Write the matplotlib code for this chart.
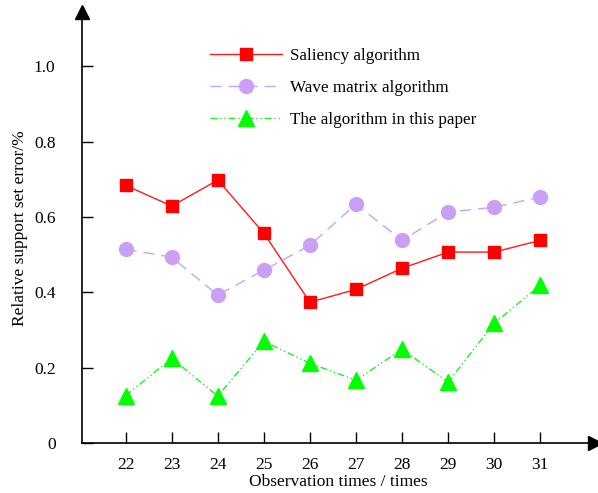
import numpy as np
import matplotlib.pyplot as plt

plt.rcParams['font.family'] = ['Liberation Serif', 'DejaVu Serif']

# observation index and the three series
times = [22, 23, 24, 25, 26, 27, 28, 29, 30, 31]
saliency = [0.684, 0.629, 0.698, 0.557, 0.374, 0.408, 0.464, 0.507, 0.507, 0.538]
wave = [0.515, 0.493, 0.393, 0.459, 0.525, 0.634, 0.538, 0.613, 0.626, 0.653]
ours = [0.126, 0.225, 0.125, 0.270, 0.212, 0.167, 0.249, 0.162, 0.318, 0.419]

yticks = [0, 0.2, 0.4, 0.6, 0.8, 1.0]
ytick_labels = ['0', '0.2', '0.4', '0.6', '0.8', '1.0']

fig = plt.figure(figsize=(5.98, 4.93), dpi=100)
ax = fig.add_axes([0.137, 0.101, 0.858, 0.874])

ax.plot(times, saliency, color='#ff1a1a', lw=1.0, marker='s', ms=9,
        mfc='#ff0000', mec='#ff0000', label='Saliency algorithm')
ax.plot(times, wave, color='#c9a3f2', lw=1.0, ls=(0, (8, 5)), marker='o',
        ms=10, mfc='#c9a0f5', mec='#c9a0f5', label='Wave matrix algorithm')
ax.plot(times, ours, color='#22ee22', lw=1.0, ls=(0, (5, 2, 1, 2, 1, 2)),
        marker='^', ms=11, mfc='#00ff00', mec='#00ff00',
        label='The algorithm in this paper')

ax.set_xlim(21.05, 32.19)
ax.set_ylim(0, 1.143)
ax.set_xticks(times)
ax.set_yticks(yticks)
ax.set_yticklabels(ytick_labels)
ax.tick_params(direction='in', length=8, width=1, labelsize=12.5, pad=10)
ax.tick_params(axis='y', pad=19)

for s in ['top', 'right']:
    ax.spines[s].set_visible(False)
for s in ['left', 'bottom']:
    ax.spines[s].set_linewidth(1.2)

# arrow heads at the axis ends
ax.plot(0, 1, marker='^', color='black', ms=10, transform=ax.transAxes, clip_on=False)
ax.plot(1, 0, marker='>', color='black', ms=10, transform=ax.transAxes, clip_on=False)

ax.set_xlabel('Observation times / times', fontsize=12.5, labelpad=1)
ax.set_ylabel('Relative support set error/%', fontsize=12.5, labelpad=4)

ax.legend(loc='upper left', bbox_to_anchor=(0.22, 0.953), frameon=False,
          fontsize=12.3, handlelength=4.2, labelspacing=0.95, handletextpad=0.45)

fig.savefig('out.png', dpi=100)
